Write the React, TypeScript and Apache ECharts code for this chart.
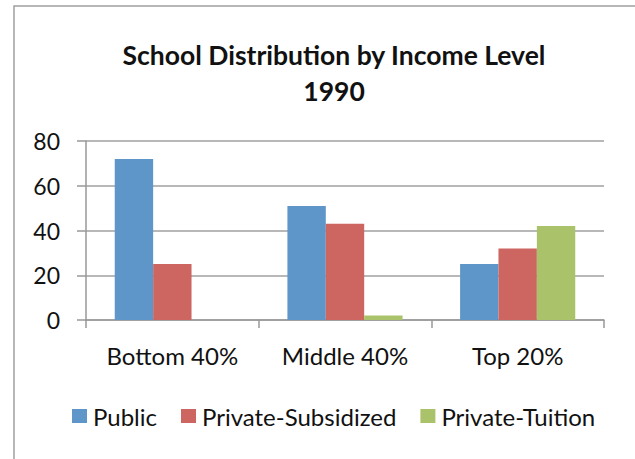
import React, { useEffect, useRef } from "react";
import * as echarts from "echarts";

const categories = ["Bottom 40%", "Middle 40%", "Top 20%"];
const seriesNames = ["Public", "Private-Subsidized", "Private-Tuition"];
const publicValues = [72, 51, 25];
const subsidizedValues = [25, 43, 32];
const tuitionValues = [0, 2, 42];
const yTicks = { min: 0, max: 80, interval: 20 };
const colors = ["#5F96CA", "#CD6560", "#AAC36B"];

const FONT = "Lato, 'Open Sans', sans-serif";

export default function App() {
  const ref = useRef<HTMLDivElement>(null);
  useEffect(() => {
    if (!ref.current) return;
    const chart = echarts.init(ref.current, undefined, { renderer: "svg" });
    const values = [publicValues, subsidizedValues, tuitionValues];
    chart.setOption({
      animation: false,
      textStyle: { fontFamily: FONT, color: "#111" },
      graphic: [
        {
          type: "rect",
          shape: { x: 14, y: 6, width: 700, height: 600 },
          style: { fill: "none", stroke: "#a0a0a0", lineWidth: 1.5 },
          silent: true,
        },
      ],
      title: {
        text: "School Distribution by Income Level\n1990",
        left: 329,
        textAlign: "center",
        top: 32,
        textStyle: {
          fontFamily: FONT,
          fontWeight: "bold",
          fontSize: 26.5,
          lineHeight: 36,
          color: "#111",
        },
      },
      legend: {
        data: seriesNames,
        left: 67,
        top: 399,
        itemWidth: 15,
        itemHeight: 14,
        itemGap: 24,
        icon: "rect",
        textStyle: { fontFamily: FONT, fontSize: 24, color: "#111", padding: [0, 0, 0, 1] },
      },
      grid: { left: 86, right: 31, top: 141, bottom: 139 },
      xAxis: {
        type: "category",
        data: categories,
        axisLine: { lineStyle: { color: "#999", width: 1.5 } },
        axisTick: { show: true, length: 8, lineStyle: { color: "#999", width: 1.5 } },
        axisLabel: { fontFamily: FONT, fontSize: 24, color: "#111", margin: 23 },
      },
      yAxis: {
        type: "value",
        min: yTicks.min,
        max: yTicks.max,
        interval: yTicks.interval,
        axisLine: { show: true, lineStyle: { color: "#999", width: 1.5 } },
        axisTick: { show: true, length: 9, lineStyle: { color: "#999", width: 1.5 } },
        splitLine: { lineStyle: { color: "#a0a0a0", width: 1.5 } },
        axisLabel: { fontFamily: FONT, fontSize: 23, color: "#111", margin: 26 },
      },
      series: seriesNames.map((name, i) => ({
        name,
        type: "bar",
        data: values[i],
        barGap: "0%",
        barCategoryGap: "33.3%",
        itemStyle: { color: colors[i] },
      })),
    });
    return () => chart.dispose();
  }, []);
  return (
    <div
      ref={ref}
      style={{ position: "absolute", left: 0, top: 0, width: 635, height: 459, background: "#fff" }}
    />
  );
}
